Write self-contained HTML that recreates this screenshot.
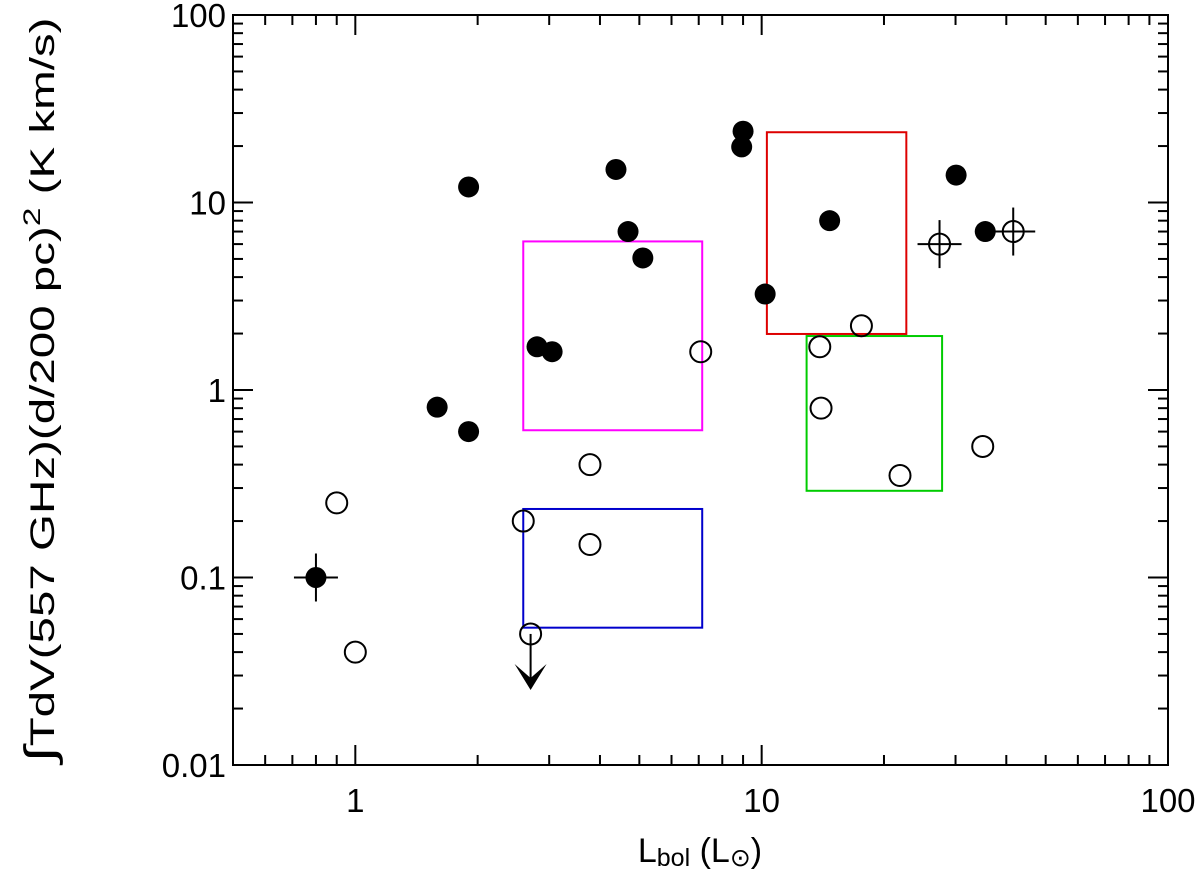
<!DOCTYPE html>
<html><head><meta charset="utf-8"><style>
body{margin:0;background:#fff}
svg text{font-family:"Liberation Sans",sans-serif;fill:#000}
</style></head><body>
<svg id="chart" width="1200" height="869" xmlns="http://www.w3.org/2000/svg">
<g id="g"></g>
</svg>
<script>
const filledX=[0.8,1.59,1.9,1.9,2.8,3.05,4.38,4.69,5.1,8.93,9.0,10.2,14.7,30.1,35.5];
const filledY=[0.1,0.81,0.6,12.1,1.7,1.6,15,7.0,5.06,19.8,24,3.25,8.0,14,7.0];
const openX=[0.9,1.0,2.59,2.7,3.78,3.78,7.08,13.9,14.0,17.6,21.9,27.4,35,41.6];
const openY=[0.25,0.04,0.2,0.05,0.4,0.15,1.6,1.7,0.8,2.2,0.35,6.0,0.5,7.0];
const boxNames=['magenta-box','blue-box','red-box','green-box'];
const boxX0=[2.59,2.59,10.3,12.9];
const boxX1=[7.14,7.14,22.7,27.8];
const boxY0=[0.61,0.054,1.99,0.29];
const boxY1=[6.2,0.232,23.7,1.94];
const boxColors=['#ff00ff','#0000cc','#dd0000','#00cc00'];
const xTicks=[1,10,100];const xTickLabels=['1','10','100'];
const yTicks=[0.01,0.1,1,10,100];const yTickLabels=['0.01','0.1','1','10','100'];
const L=233,R=1168,T=15,B=765;
const xs=v=>L+(Math.log10(v)-Math.log10(0.5))/(2-Math.log10(0.5))*(R-L);
const ys=v=>B-(Math.log10(v)+2)/4*(B-T);
const g=document.getElementById('g');const NS='http://www.w3.org/2000/svg';
function mk(t,a,p){const e=document.createElementNS(NS,t);for(const k in a)e.setAttribute(k,a[k]);(p||g).appendChild(e);return e;}
const frame=mk('rect',{x:L,y:T,width:R-L,height:B-T,fill:'none',stroke:'#000','stroke-width':2});


for(let d=-1;d<2;d++)for(let m=1;m<10;m++){const v=m*Math.pow(10,d);if(v<0.5||v>100)continue;const x=xs(v);const len=m==1?20:10;
mk('line',{x1:x,y1:B,x2:x,y2:B-len,stroke:'#000','stroke-width':2});mk('line',{x1:x,y1:T,x2:x,y2:T+len,stroke:'#000','stroke-width':2});}
{const x=xs(100);mk('line',{x1:x,y1:B,x2:x,y2:B-20,stroke:'#000','stroke-width':2});}
for(let d=-2;d<2;d++)for(let m=1;m<10;m++){const v=m*Math.pow(10,d);const y=ys(v);const len=m==1?20:10;
mk('line',{x1:L,y1:y,x2:L+len,y2:y,stroke:'#000','stroke-width':2});mk('line',{x1:R,y1:y,x2:R-len,y2:y,stroke:'#000','stroke-width':2});}
xTicks.forEach((v,i)=>{const t=mk('text',{x:xs(v),y:B+47,'font-size':33,'text-anchor':'middle'});t.textContent=xTickLabels[i];

});
yTicks.forEach((v,i)=>{const t=mk('text',{x:L-7,y:ys(v)+12,'font-size':33,'text-anchor':'end'});t.textContent=yTickLabels[i];

});
boxX0.forEach((v,i)=>{const r=mk('rect',{x:xs(v),y:ys(boxY1[i]),width:xs(boxX1[i])-xs(v),height:ys(boxY0[i])-ys(boxY1[i]),fill:'none',stroke:boxColors[i],'stroke-width':2});

});
filledX.forEach((v,i)=>{const c=mk('circle',{cx:xs(v),cy:ys(filledY[i]),r:10.5,fill:'#000'});

});
openX.forEach((v,i)=>{const c=mk('circle',{cx:xs(v),cy:ys(openY[i]),r:10.5,fill:'none',stroke:'#000','stroke-width':2});

});
[[0.8,0.1],[27.4,6.0],[41.6,7.0]].forEach(p=>{const x=xs(p[0]),y=ys(p[1]);
mk('line',{x1:x-22,y1:y,x2:x+22,y2:y,stroke:'#000','stroke-width':2});mk('line',{x1:x,y1:y-24,x2:x,y2:y+24,stroke:'#000','stroke-width':2});});
{const x=xs(2.7),y=ys(0.05);mk('line',{x1:x,y1:y,x2:x,y2:y+52,stroke:'#000','stroke-width':2});
const a=mk('path',{d:`M${x-16} ${y+30} L${x} ${y+56} L${x+16} ${y+30} L${x} ${y+44} Z`,fill:'#000'});

}
const xl=mk('text',{x:700,y:862,'font-size':34,'text-anchor':'middle'});
xl.innerHTML='L<tspan font-size="25" dy="4">bol</tspan><tspan dy="-4"> (L</tspan><tspan font-size="25" dy="4">⊙</tspan><tspan dy="-4">)</tspan>';


const yl=mk('text',{x:0,y:0,'font-size':34,'text-anchor':'middle',textLength:745,lengthAdjust:'spacingAndGlyphs',transform:'translate(54,390) rotate(-90)'});
yl.innerHTML='<tspan font-size="42">∫</tspan>TdV(557 GHz)(d/200 pc)<tspan font-size="24" dy="-14">2</tspan><tspan dy="14"> (K km/s)</tspan>';


</script>
</body></html>
